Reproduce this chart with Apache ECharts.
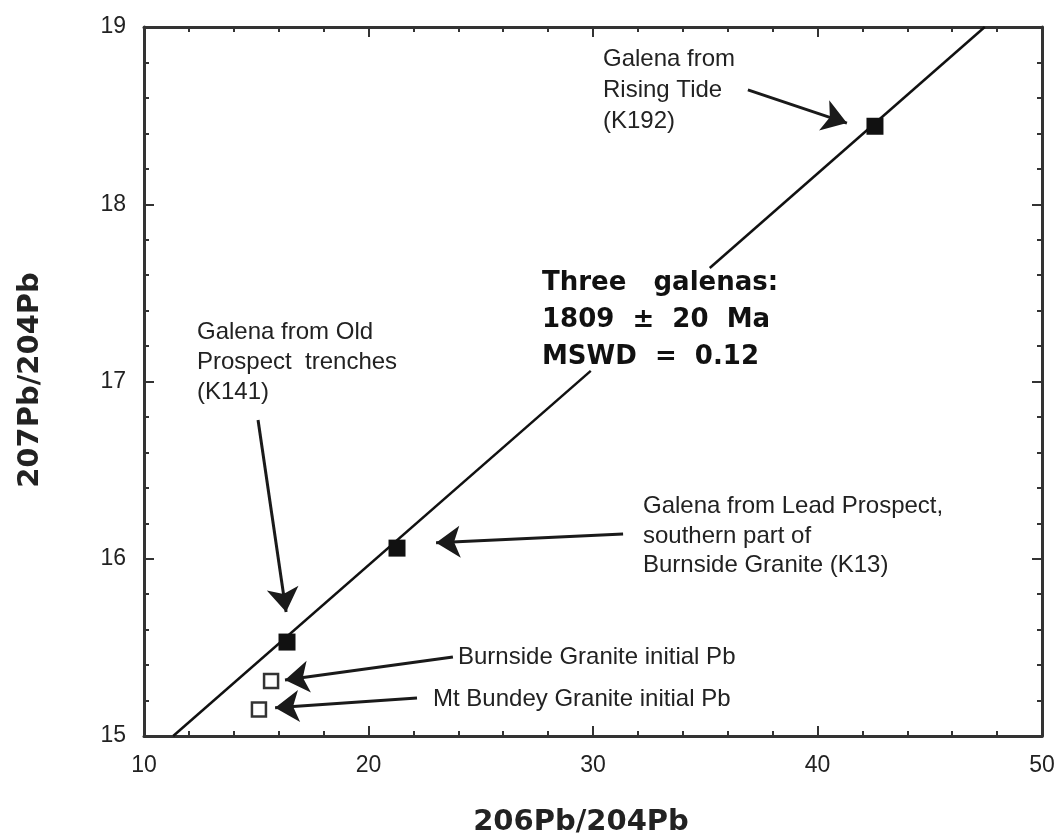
<!DOCTYPE html>
<html>
<head>
<meta charset="utf-8">
<script src="https://cdn.jsdelivr.net/npm/echarts@6/dist/echarts.min.js"></script>
<style>
html,body{margin:0;padding:0;background:#fff;}
#chart{width:1058px;height:833px;}
</style>
</head>
<body>
<div id="chart"></div>
<script>
// ---- data ----
const galenaX = [16.37, 21.27, 42.56];
const galenaY = [15.53, 16.06, 18.44];
const graniteX = [15.66, 15.12];
const graniteY = [15.31, 15.15];
// isochron line (broken where it passes the text block)
const isoLowX = [11.3, 29.9];
const isoLowY = [15.0, 17.06];
const isoHighX = [35.2, 47.45];
const isoHighY = [17.64, 19.0];
const xTicks = [10, 20, 30, 40, 50];
const yTicks = [15, 16, 17, 18, 19];
// annotation arrows [fromX, fromY] -> [toX, toY]
const arrowsFrom = [[36.90, 18.645], [15.08, 16.783], [31.34, 16.14], [23.76, 15.446], [22.16, 15.214]];
const arrowsTo   = [[41.31, 18.458], [16.33, 15.70], [23.01, 16.09], [16.28, 15.316], [15.84, 15.16]];

const pairs = (xs, ys) => xs.map((x, i) => [x, ys[i]]);
const AX = '#333';
const TXT = '#222';

const chart = echarts.init(document.getElementById('chart'));

function mkX(pos, showLabel) {
  return {
    type: 'value', min: xTicks[0], max: xTicks[xTicks.length - 1], interval: 10,
    position: pos,
    axisLine: { show: true, onZero: false, lineStyle: { color: AX, width: 3 } },
    axisTick: { show: true, inside: true, length: 10, lineStyle: { color: AX, width: 2 } },
    minorTick: { show: true, splitNumber: 5, length: 5, lineStyle: { color: AX, width: 2 } },
    splitLine: { show: false },
    axisLabel: { show: showLabel, margin: 18, fontSize: 23, color: TXT, fontFamily: 'Liberation Sans' }
  };
}
function mkY(pos, showLabel) {
  return {
    type: 'value', min: yTicks[0], max: yTicks[yTicks.length - 1], interval: 1,
    position: pos,
    axisLine: { show: true, onZero: false, lineStyle: { color: AX, width: 3 } },
    axisTick: { show: true, inside: true, length: 10, lineStyle: { color: AX, width: 2 } },
    minorTick: { show: true, splitNumber: 5, length: 5, lineStyle: { color: AX, width: 2 } },
    splitLine: { show: false },
    axisLabel: { show: showLabel, margin: 18, fontSize: 23, color: TXT, fontFamily: 'Liberation Sans' }
  };
}

const regular = '24px "Liberation Sans"';
const bold = 'bold 26px "DejaVu Sans"';

chart.setOption({
  animation: false,
  backgroundColor: '#fff',
  grid: { left: 144, right: 16, top: 27, bottom: 97 },
  xAxis: [mkX('bottom', true), mkX('top', false)],
  yAxis: [mkY('left', true), mkY('right', false)],
  series: [
    { type: 'line', data: pairs(isoLowX, isoLowY), showSymbol: false, lineStyle: { color: '#111', width: 2.5 }, z: 2 },
    { type: 'line', data: pairs(isoHighX, isoHighY), showSymbol: false, lineStyle: { color: '#111', width: 2.5 }, z: 2 },
    {
      type: 'scatter', data: [], z: 3,
      markLine: {
        silent: true, symbol: ['none', 'arrow'], symbolSize: 24,
        label: { show: false },
        lineStyle: { color: '#1a1a1a', width: 3, type: 'solid' },
        data: arrowsFrom.map((f, i) => [{ coord: f }, { coord: arrowsTo[i] }])
      }
    },
    { type: 'scatter', data: pairs(galenaX, galenaY), symbol: 'rect', symbolSize: 17, itemStyle: { color: '#111', opacity: 1 }, z: 5 },
    { type: 'scatter', data: pairs(graniteX, graniteY), symbol: 'rect', symbolSize: 14, itemStyle: { color: '#fff', borderColor: '#333', borderWidth: 2.5, opacity: 1 }, z: 5 }
  ],
  graphic: [
    { type: 'text', x: 603, y: 44, style: { text: 'Galena from\nRising Tide\n(K192)', font: regular, fill: TXT, lineHeight: 31, verticalAlign: 'top' } },
    { type: 'text', x: 197, y: 317, style: { text: 'Galena from Old\nProspect  trenches\n(K141)', font: regular, fill: TXT, lineHeight: 30, verticalAlign: 'top' } },
    { type: 'text', x: 643, y: 492, style: { text: 'Galena from Lead Prospect,\nsouthern part of\nBurnside Granite (K13)', font: regular, fill: TXT, lineHeight: 29.5, verticalAlign: 'top' } },
    { type: 'text', x: 458, y: 657, style: { text: 'Burnside Granite initial Pb', font: regular, fill: TXT, verticalAlign: 'middle' } },
    { type: 'text', x: 433, y: 699, style: { text: 'Mt Bundey Granite initial Pb', font: regular, fill: TXT, verticalAlign: 'middle' } },
    { type: 'text', x: 542, y: 265, style: { text: 'Three   galenas:\n1809  \u00b1  20  Ma\nMSWD  =  0.12', font: bold, fill: '#111', lineHeight: 37, verticalAlign: 'top' } },
    { type: 'text', x: 581, y: 822, style: { text: '206Pb/204Pb', font: 'bold 29px "DejaVu Sans"', fill: TXT, align: 'center', verticalAlign: 'middle' } },
    { type: 'text', x: 30, y: 380, rotation: Math.PI / 2, style: { text: '207Pb/204Pb', font: 'bold 29px "DejaVu Sans"', fill: TXT, align: 'center', verticalAlign: 'middle' } }
  ]
});
</script>
</body>
</html>
